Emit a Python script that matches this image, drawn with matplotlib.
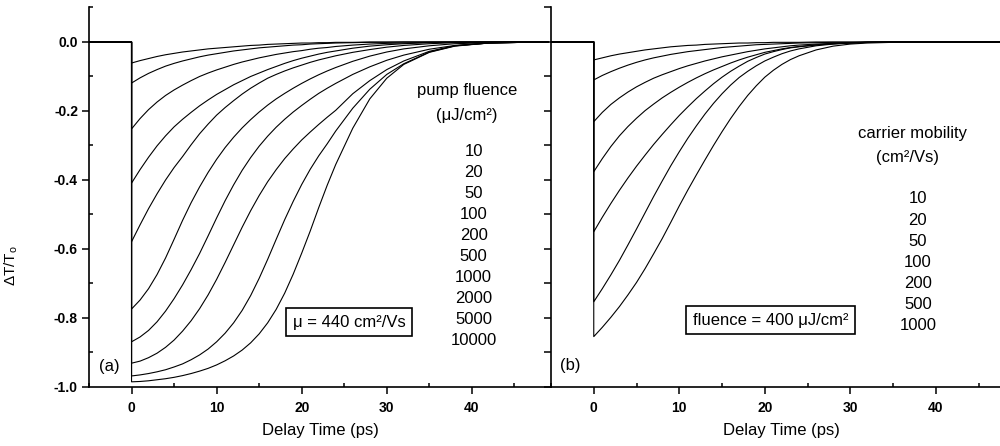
import matplotlib
matplotlib.use('Agg')
import matplotlib.pyplot as plt
from matplotlib.ticker import MultipleLocator, FormatStrFormatter

plt.rcParams['font.family'] = ['Liberation Sans', 'DejaVu Sans']
plt.rcParams['mathtext.default'] = 'regular'
plt.rcParams['axes.unicode_minus'] = False

# ---------------- data ----------------
# delay times (ps) at which the curves were read
T = [0, 1, 2, 3, 4, 5, 6, 7, 8, 9, 10, 11, 12, 13, 14, 15, 16, 17, 18, 19, 20, 21, 22, 23, 24,
     26, 28, 30, 32, 35, 38, 42, 46, 49]
# signal before time zero
T_BEFORE = [-5.0, 0.0]
Y_BEFORE = [0.0, 0.0]

# panel (a): pump fluence series (uJ/cm^2), mu = 440 cm^2/Vs
fluence_labels = ['10', '20', '50', '100', '200', '500', '1000', '2000', '5000', '10000']
a10 = [-0.061, -0.054, -0.048, -0.042, -0.037, -0.033, -0.029, -0.026, -0.023, -0.020, -0.018, -0.016, -0.014,
       -0.012, -0.010, -0.009, -0.007, -0.006, -0.005, -0.004, -0.003, -0.003, -0.002, -0.002, -0.001,
       -0.001, 0, 0, 0, 0, 0, 0, 0, 0]
a20 = [-0.119, -0.104, -0.091, -0.080, -0.070, -0.062, -0.055, -0.049, -0.043, -0.038, -0.034, -0.030, -0.026,
       -0.023, -0.020, -0.017, -0.015, -0.013, -0.011, -0.009, -0.008, -0.006, -0.005, -0.004, -0.003,
       -0.002, -0.001, -0.001, 0, 0, 0, 0, 0, 0]
a50 = [-0.252, -0.222, -0.196, -0.174, -0.155, -0.139, -0.125, -0.112, -0.100, -0.090, -0.081, -0.073, -0.065,
       -0.058, -0.052, -0.046, -0.041, -0.036, -0.032, -0.028, -0.025, -0.021, -0.018, -0.016, -0.013,
       -0.009, -0.006, -0.004, -0.003, -0.001, 0, 0, 0, 0]
a100 = [-0.409, -0.370, -0.334, -0.301, -0.272, -0.246, -0.224, -0.204, -0.185, -0.168, -0.152, -0.138, -0.124,
        -0.112, -0.100, -0.090, -0.080, -0.071, -0.062, -0.054, -0.047, -0.041, -0.035, -0.030, -0.026,
        -0.018, -0.012, -0.008, -0.005, -0.002, -0.001, 0, 0, 0]
a200 = [-0.579, -0.530, -0.483, -0.440, -0.400, -0.364, -0.332, -0.298, -0.266, -0.238, -0.212, -0.190, -0.170,
        -0.151, -0.134, -0.119, -0.105, -0.094, -0.084, -0.075, -0.067, -0.059, -0.052, -0.046, -0.040,
        -0.030, -0.022, -0.015, -0.010, -0.005, -0.002, -0.001, 0, 0]
a500 = [-0.774, -0.748, -0.715, -0.674, -0.626, -0.572, -0.517, -0.466, -0.420, -0.378, -0.340, -0.306, -0.276,
        -0.249, -0.225, -0.203, -0.183, -0.165, -0.149, -0.134, -0.120, -0.107, -0.095, -0.084, -0.074,
        -0.056, -0.041, -0.029, -0.020, -0.011, -0.005, -0.002, 0, 0]
a1000 = [-0.869, -0.855, -0.836, -0.811, -0.780, -0.744, -0.704, -0.660, -0.613, -0.562, -0.510, -0.460, -0.414,
         -0.372, -0.335, -0.302, -0.273, -0.247, -0.224, -0.203, -0.184, -0.166, -0.149, -0.134, -0.120,
         -0.094, -0.072, -0.053, -0.038, -0.021, -0.010, -0.003, -0.001, 0]
a2000 = [-0.931, -0.925, -0.915, -0.902, -0.885, -0.864, -0.838, -0.808, -0.773, -0.733, -0.688, -0.639, -0.588,
         -0.537, -0.489, -0.445, -0.405, -0.370, -0.338, -0.310, -0.284, -0.261, -0.239, -0.218, -0.198,
         -0.150, -0.112, -0.080, -0.055, -0.027, -0.011, -0.003, -0.001, 0]
a5000 = [-0.968, -0.965, -0.961, -0.956, -0.950, -0.942, -0.933, -0.921, -0.907, -0.890, -0.869, -0.844, -0.814,
         -0.778, -0.735, -0.685, -0.630, -0.572, -0.515, -0.462, -0.413, -0.369, -0.330, -0.295, -0.258,
         -0.192, -0.137, -0.094, -0.063, -0.029, -0.011, -0.003, -0.001, 0]
a10000 = [-0.985, -0.984, -0.982, -0.979, -0.976, -0.972, -0.967, -0.961, -0.954, -0.946, -0.936, -0.924, -0.910,
          -0.893, -0.872, -0.846, -0.814, -0.775, -0.728, -0.673, -0.612, -0.548, -0.480, -0.415, -0.355,
          -0.250, -0.165, -0.105, -0.065, -0.030, -0.012, -0.003, -0.001, 0]
series_a = [a10, a20, a50, a100, a200, a500, a1000, a2000, a5000, a10000]

# panel (b): carrier mobility series (cm^2/Vs), fluence = 400 uJ/cm^2
mobility_labels = ['10', '20', '50', '100', '200', '500', '1000']
b10 = [-0.052, -0.046, -0.040, -0.035, -0.031, -0.027, -0.023, -0.020, -0.017, -0.014, -0.012, -0.010, -0.009,
       -0.007, -0.006, -0.005, -0.004, -0.003, -0.003, -0.002, -0.002, -0.001, -0.001, -0.001, -0.001,
       0, 0, 0, 0, 0, 0, 0, 0, 0]
b20 = [-0.110, -0.097, -0.086, -0.076, -0.067, -0.059, -0.052, -0.046, -0.041, -0.036, -0.032, -0.028, -0.025,
       -0.022, -0.019, -0.016, -0.014, -0.012, -0.010, -0.008, -0.007, -0.006, -0.005, -0.004, -0.003,
       -0.002, -0.001, -0.001, 0, 0, 0, 0, 0, 0]
b50 = [-0.231, -0.204, -0.181, -0.162, -0.145, -0.130, -0.117, -0.105, -0.095, -0.086, -0.077, -0.069, -0.062,
       -0.055, -0.049, -0.043, -0.038, -0.033, -0.028, -0.024, -0.020, -0.017, -0.014, -0.011, -0.009,
       -0.006, -0.004, -0.002, -0.001, 0, 0, 0, 0, 0]
b100 = [-0.376, -0.338, -0.303, -0.272, -0.245, -0.221, -0.199, -0.180, -0.162, -0.146, -0.131, -0.117, -0.104,
        -0.092, -0.081, -0.071, -0.061, -0.052, -0.044, -0.037, -0.030, -0.025, -0.020, -0.016, -0.013,
        -0.008, -0.005, -0.003, -0.001, 0, 0, 0, 0, 0]
b200 = [-0.550, -0.508, -0.468, -0.430, -0.394, -0.360, -0.328, -0.297, -0.268, -0.240, -0.213, -0.188, -0.164,
        -0.142, -0.121, -0.102, -0.085, -0.070, -0.056, -0.045, -0.035, -0.028, -0.022, -0.017, -0.014,
        -0.009, -0.005, -0.003, -0.001, 0, 0, 0, 0, 0]
b500 = [-0.753, -0.715, -0.675, -0.633, -0.588, -0.542, -0.495, -0.448, -0.403, -0.359, -0.318, -0.279, -0.243,
        -0.209, -0.178, -0.150, -0.125, -0.103, -0.085, -0.069, -0.055, -0.044, -0.034, -0.026, -0.020,
        -0.011, -0.006, -0.003, -0.001, 0, 0, 0, 0, 0]
b1000 = [-0.854, -0.827, -0.798, -0.767, -0.733, -0.697, -0.657, -0.614, -0.570, -0.523, -0.475, -0.429, -0.385,
         -0.342, -0.300, -0.260, -0.222, -0.187, -0.155, -0.127, -0.102, -0.082, -0.065, -0.051, -0.040,
         -0.023, -0.012, -0.006, -0.003, -0.001, 0, 0, 0, 0]
series_b = [b10, b20, b50, b100, b200, b500, b1000]

# ---------------- figure ----------------
fig = plt.figure(figsize=(10, 4.46), dpi=100)
axA = fig.add_axes([0.089, 0.1323, 0.462, 0.852])
axB = fig.add_axes([0.551, 0.1323, 0.449, 0.852])

LW = 0.8
for ys in series_a:
    axA.plot(T_BEFORE + T, Y_BEFORE + ys, color='black', lw=LW)
for ys in series_b:
    axB.plot(T_BEFORE + T, Y_BEFORE + ys, color='black', lw=LW)

TICK_FS = 10
for ax, xmax in ((axA, 49.3), (axB, 47.5)):
    ax.set_xlim(-5, xmax)
    ax.set_ylim(-1.0, 0.1014)
    ax.spines['top'].set_visible(False)
    ax.spines['right'].set_visible(False)
    for s in ('left', 'bottom'):
        ax.spines[s].set_linewidth(1.2)
    ax.xaxis.set_major_locator(MultipleLocator(10))
    ax.xaxis.set_minor_locator(MultipleLocator(5))
    ax.yaxis.set_major_locator(MultipleLocator(0.2))
    ax.yaxis.set_minor_locator(MultipleLocator(0.1))
    ax.tick_params(axis='x', which='major', direction='out', length=5, width=1.1, pad=5,
                   labelsize=TICK_FS)
    ax.tick_params(axis='x', which='minor', direction='in', length=3, width=1.1)
    ax.set_xlabel('Delay Time (ps)', fontsize=12)

axA.yaxis.set_major_formatter(FormatStrFormatter('%.1f'))
axA.tick_params(axis='y', which='major', direction='out', length=5, width=1.1, pad=3, labelsize=TICK_FS)
axA.tick_params(axis='y', which='minor', direction='in', length=3, width=1.1)
axB.tick_params(axis='y', which='both', direction='out', length=5, width=1.1, labelleft=False)
for lab in axA.get_xticklabels() + axA.get_yticklabels() + axB.get_xticklabels():
    lab.set_fontweight('bold')

axA.set_ylabel('ΔT/T$_o$', fontsize=11)
axA.yaxis.set_label_coords(-0.149, 0.32)
axA.xaxis.set_label_coords(0.5, -0.095)
axB.xaxis.set_label_coords(0.514, -0.095)

# ---------------- annotations ----------------
TXT = 12
axA.text(39.4, -0.141, 'pump fluence', fontsize=TXT, ha='center', va='center')
axA.text(39.4, -0.212, '(μJ/cm²)', fontsize=TXT, ha='center', va='center')
for i, lab in enumerate(fluence_labels):
    axA.text(40.2, -0.316 - i * 0.0611, lab, fontsize=TXT, ha='center', va='center')
axA.text(25.6, -0.812, 'μ = 440 cm²/Vs', fontsize=TXT, ha='center', va='center',
         bbox=dict(boxstyle='square,pad=0.4', fc='white', ec='black', lw=1.2))
axA.text(-2.6, -0.942, '(a)', fontsize=TXT, ha='center', va='center')

axB.text(37.3, -0.264, 'carrier mobility', fontsize=TXT, ha='center', va='center')
axB.text(36.7, -0.336, '(cm²/Vs)', fontsize=TXT, ha='center', va='center')
for i, lab in enumerate(mobility_labels):
    axB.text(37.9, -0.455 - i * 0.0611, lab, fontsize=TXT, ha='center', va='center')
axB.text(20.7, -0.806, 'fluence = 400 μJ/cm²', fontsize=TXT, ha='center', va='center',
         bbox=dict(boxstyle='square,pad=0.4', fc='white', ec='black', lw=1.2))
axB.text(-2.8, -0.939, '(b)', fontsize=TXT, ha='center', va='center')

fig.savefig('out.png', dpi=100, facecolor='white')
